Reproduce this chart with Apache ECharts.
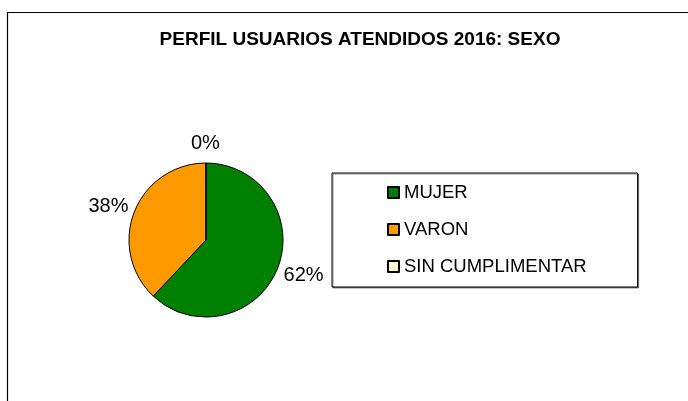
<!DOCTYPE html>
<html>
<head>
<meta charset="utf-8">
<style>html,body{margin:0;padding:0;background:#fff}#c{width:688px;height:401px}</style>
<script src="https://cdn.jsdelivr.net/npm/echarts@6/dist/echarts.min.js"></script>
</head>
<body>
<div id="c"></div>
<script>
const categories = ['MUJER', 'VARON', 'SIN CUMPLIMENTAR'];
const values = [62, 38, 0];
const colors = ['#008000', '#FF9900', '#FFFFCC'];
const titleText = 'PERFIL USUARIOS ATENDIDOS 2016: SEXO';

const chart = echarts.init(document.getElementById('c'), null, {renderer: 'canvas'});
const font = 'Liberation Sans, Arial, sans-serif';
const labelPads = [[0, 0, 0, 0], [0, 0, 0, 0], [0, 0, 0, -20]];
const labelOffsets = [[0, 7], [0, -5], [0, 0]];
chart.setOption({
  backgroundColor: '#fff',
  animation: false,
  graphic: [{
    type: 'rect', silent: true, z: -1,
    shape: {x: 7.5, y: 12.5, width: 800, height: 500},
    style: {fill: 'none', stroke: '#000', lineWidth: 1.2}
  }],
  title: {
    text: titleText,
    left: 355, textAlign: 'center', top: 25,
    textStyle: {fontFamily: font, fontSize: 19, fontWeight: 'bold', color: '#000'}
  },
  legend: {
    orient: 'vertical',
    left: 332, top: 173,
    padding: [10, 51, 11, 55],
    backgroundColor: '#fff',
    borderColor: '#000', borderWidth: 1,
    shadowColor: 'rgba(0,0,0,0.45)', shadowOffsetX: 1, shadowOffsetY: 1, shadowBlur: 0,
    itemWidth: 11, itemHeight: 11, itemGap: 18, itemTextGap: 8,
    icon: 'rect',
    data: categories,
    textStyle: {fontFamily: font, fontSize: 18.5, color: '#000'}
  },
  series: [{
    type: 'pie',
    center: [206, 240],
    radius: 77,
    startAngle: 90,
    clockwise: true,
    avoidLabelOverlap: false,
    stillShowZeroSum: true,
    minShowLabelAngle: 0,
    percentPrecision: 0,
    itemStyle: {borderColor: '#000', borderWidth: 1},
    label: {
      show: true, position: 'outside', formatter: '{d}%',
      fontFamily: font, fontSize: 20, color: '#000'
    },
    labelLine: {show: false, length: 1, length2: 0},
    emphasis: {disabled: true},
    data: categories.map((n, i) => {
      const d = {name: n, value: values[i], itemStyle: {color: colors[i]},
        label: {padding: labelPads[i], offset: labelOffsets[i]}};
      if (values[i] === 0) {
        d.labelLine = {show: false, length: 20, length2: 0};
      }
      return d;
    })
  }]
});
</script>
</body>
</html>
